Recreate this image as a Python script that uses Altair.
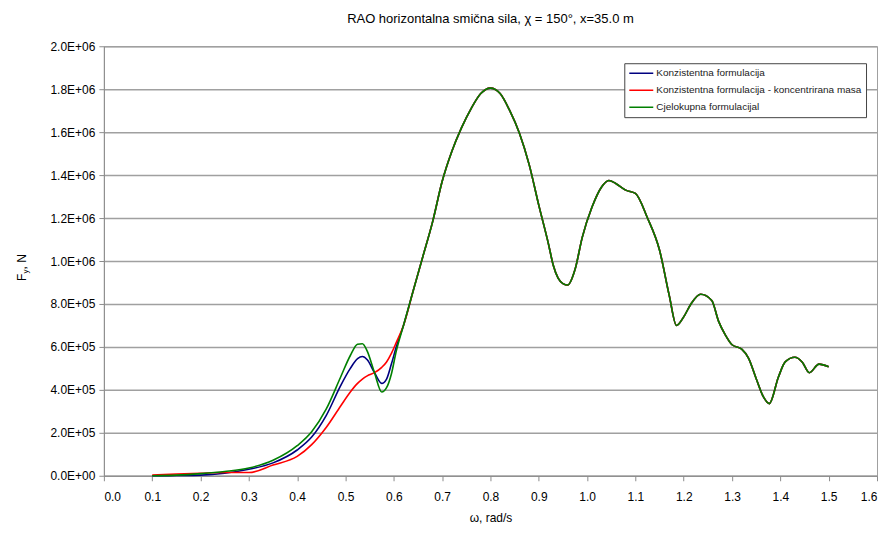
import altair as alt
import pandas as pd

series_names = [
    "Konzistentna formulacija",
    "Konzistentna formulacija - koncentrirana masa",
    "Cjelokupna formulacijal",
]
series_colors = ["#000080", "#ff0000", "#008000"]
series_widths = [1.6, 1.6, 2.6]

# low-frequency part, where the three formulations differ
omega_low = [0.10, 0.15, 0.20, 0.25, 0.30, 0.35, 0.40, 0.43, 0.46, 0.49, 0.51,
             0.525, 0.535, 0.545, 0.56, 0.575, 0.585, 0.595, 0.605, 0.62]
blue_low = [0, 1000, 3000, 12000, 30000, 60000, 120000, 180000, 280000, 420000, 500000,
            545000, 555000, 540000, 480000, 430000, 450000, 520000, 600000, 700000]
red_low = [3000, 8000, 12000, 15000, 15000, 50000, 90000, 145000, 225000, 325000, 390000,
           430000, 450000, 465000, 480000, 505000, 530000, 570000, 620000, 700000]
green_low = [0, 3000, 10000, 20000, 36000, 72000, 140000, 205000, 310000, 460000, 560000,
             612000, 615000, 580000, 480000, 390000, 410000, 474000, 580000, 700000]

# high-frequency part, where the curves coincide
omega_high = [0.64, 0.66, 0.68, 0.70, 0.72, 0.74, 0.76, 0.78, 0.80, 0.82, 0.84, 0.86,
              0.88, 0.90, 0.92, 0.93, 0.94, 0.95, 0.96, 0.975, 0.99, 1.01, 1.03, 1.045,
              1.06, 1.08, 1.10, 1.125, 1.15, 1.17, 1.185, 1.20, 1.215, 1.235, 1.258,
              1.272, 1.286, 1.30, 1.32, 1.334, 1.351, 1.365, 1.377, 1.396, 1.41, 1.43,
              1.445, 1.46, 1.48, 1.50]
force_high = [860000, 1020000, 1180000, 1370000, 1510000, 1620000, 1710000, 1780000,
              1805000, 1780000, 1700000, 1595000, 1450000, 1260000, 1080000, 980000,
              920000, 895000, 888000, 960000, 1110000, 1250000, 1345000, 1375000,
              1360000, 1330000, 1315000, 1200000, 1050000, 840000, 700000, 740000,
              800000, 845000, 816000, 720000, 656000, 610000, 590000, 548000, 446000,
              367000, 336000, 460000, 530000, 552000, 530000, 480000, 520000, 508000]

y_ticks = [0, 200000, 400000, 600000, 800000, 1000000, 1200000, 1400000, 1600000,
           1800000, 2000000]
x_ticks = [0.0, 0.1, 0.2, 0.3, 0.4, 0.5, 0.6, 0.7, 0.8, 0.9, 1.0, 1.1, 1.2, 1.3, 1.4,
           1.5, 1.6]

rows = []
for name, low in zip(series_names, [blue_low, red_low, green_low]):
    for w, f in zip(omega_low, low):
        rows.append({"series": name, "omega": w, "force": f})
    for w, f in zip(omega_high, force_high):
        rows.append({"series": name, "omega": w, "force": f})
df = pd.DataFrame(rows)

FONT = "Liberation Sans"

label_expr = (
    "datum.value == 0 ? '0.0E+00' : "
    "format(datum.value / pow(10, floor(log(datum.value) / LN10 + 1e-9)), '.1f') + 'E+' + "
    "format(floor(log(datum.value) / LN10 + 1e-9), '02d')"
)

lines = alt.Chart(df).mark_line(interpolate="monotone").encode(
    x=alt.X(
        "omega:Q",
        scale=alt.Scale(domain=[0, 1.6], nice=False),
        axis=alt.Axis(values=x_ticks, format=".1f", title="ω, rad/s", grid=False,
                      tickSize=5, labelPadding=11, titlePadding=10),
    ),
    y=alt.Y(
        "force:Q",
        scale=alt.Scale(domain=[0, 2000000], nice=False),
        axis=alt.Axis(values=y_ticks, labelExpr=label_expr, title=None, grid=True,
                      tickSize=5, labelPadding=4),
    ),
    color=alt.Color("series:N", scale=alt.Scale(domain=series_names, range=series_colors),
                    title=None),
    strokeWidth=alt.StrokeWidth("series:N",
                                scale=alt.Scale(domain=series_names, range=series_widths),
                                title=None),
)

one = alt.Data(values=[{}])
t_f = alt.Chart(one).mark_text(text="F", angle=270, align="left", baseline="middle",
                               font=FONT, fontSize=12, color="black").encode(
    x=alt.value(-82), y=alt.value(235))
t_y = alt.Chart(one).mark_text(text="y", angle=270, align="left", baseline="middle",
                               font=FONT, fontSize=8, color="black").encode(
    x=alt.value(-78), y=alt.value(227.5))
t_n = alt.Chart(one).mark_text(text=", N", angle=270, align="left", baseline="middle",
                               font=FONT, fontSize=12, color="black").encode(
    x=alt.value(-82), y=alt.value(223.5))

chart = alt.layer(lines, t_f, t_y, t_n).properties(
    width=774,
    height=430,
    title=alt.Title("RAO horizontalna smična sila, χ = 150°, x=35.0 m", font=FONT,
                    fontSize=13, fontWeight="normal", color="black", offset=14),
    padding={"left": 8, "top": 5, "right": 5, "bottom": 3},
).configure_view(
    stroke="#a0a0a0", strokeWidth=1
).configure_axis(
    labelFont=FONT, labelFontSize=12, labelColor="black",
    titleFont=FONT, titleFontSize=12, titleFontWeight="normal", titleColor="black",
    domainColor="#8c8c8c", tickColor="#8c8c8c", gridColor="#a0a0a0", gridWidth=1.5,
).configure_legend(
    orient="none", legendX=521, legendY=17,
    labelFont=FONT, labelFontSize=10, labelColor="#222", labelLimit=320,
    symbolType="stroke", symbolSize=576, symbolStrokeWidth=2,
    clipHeight=12, rowPadding=5, labelOffset=2, padding=4,
    strokeColor="#444", fillColor="white", cornerRadius=0,
)

chart.save("out.html", embed_options={"renderer": "svg", "actions": False})
